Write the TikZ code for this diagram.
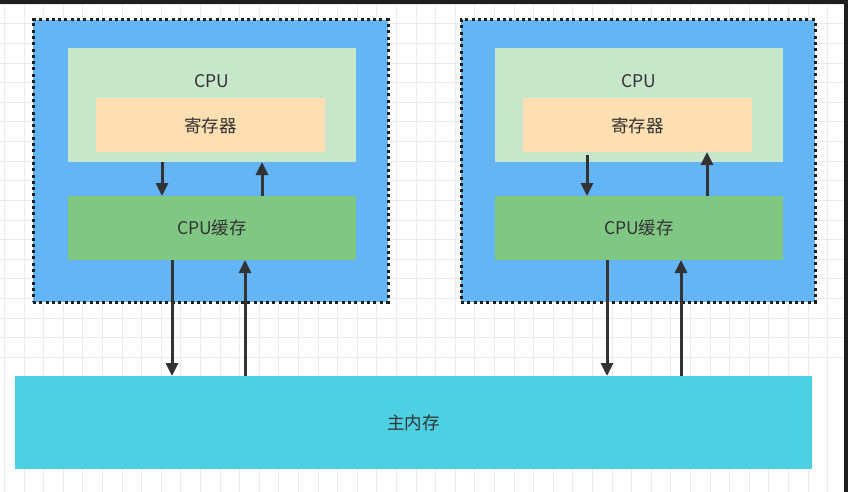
\documentclass[tikz,border=0pt]{standalone}
\usepackage{fontspec}
\setmainfont{Noto Sans CJK SC}
\usetikzlibrary{arrows.meta}
\definecolor{outerblue}{HTML}{64B5F6}
\definecolor{cpugreen}{HTML}{C8E6C9}
\definecolor{regorange}{HTML}{FFE0B2}
\definecolor{cachegreen}{HTML}{81C784}
\definecolor{memcyan}{HTML}{4DD0E1}
\definecolor{txt}{HTML}{333333}
\definecolor{gridc}{HTML}{EBEBEB}
\definecolor{frame}{HTML}{1E1E1E}
\tikzset{
  x=1pt, y=-1pt,
  box/.style={draw=none, inner sep=0pt, outer sep=0pt},
  outerbox/.style={box, fill=outerblue, draw=frame, line width=3pt, dash pattern=on 3pt off 3.3pt},
  lbl/.style={font=\fontsize{17.5}{20}\selectfont, text=txt, inner sep=0pt},
  arr/.style={draw=txt, line width=3pt, -{Triangle[length=13pt,width=12pt]}},
}
\begin{document}
\begin{tikzpicture}
\useasboundingbox (0,0) rectangle (848,492);
\fill[white] (0,0) rectangle (848,492);
% grid
\begin{scope}
\clip (0,4) rectangle (844,492);
\foreach \i in {-2,...,43} {
  \draw[gridc, line width=1pt] ({24+19.6*\i},0) -- ({24+19.6*\i},492);
}
\foreach \j in {-2,...,26} {
  \draw[gridc, line width=1pt] (0,{318-19.6*\j}) -- (848,{318-19.6*\j});
}
\end{scope}
% screenshot frame
\fill[frame] (0,0) rectangle (848,4);
\fill[frame] (844,0) rectangle (848,492);

% left group
\node[outerbox, minimum width=355pt, minimum height=282pt] (outerL) at (210.5,161) {};
\node[box, fill=cpugreen, minimum width=288pt, minimum height=114pt] (cpuL) at (212,105) {};
\node[lbl] (cpuLt) at (212,81) {CPU};
\node[box, fill=regorange, minimum width=229pt, minimum height=54pt] (regL) at (210.5,125) {};
\node[lbl] (regLt) at (210.5,126) {寄存器};
\node[box, fill=cachegreen, minimum width=288pt, minimum height=64pt] (cacheL) at (212,228) {};
\node[lbl] (cacheLt) at (212,228) {CPU缓存};

% right group
\node[outerbox, minimum width=354pt, minimum height=282pt] (outerR) at (638,161) {};
\node[box, fill=cpugreen, minimum width=288pt, minimum height=114pt] (cpuR) at (639,105) {};
\node[lbl] (cpuRt) at (639,81) {CPU};
\node[box, fill=regorange, minimum width=229pt, minimum height=54pt] (regR) at (637.5,125) {};
\node[lbl] (regRt) at (637.5,126) {寄存器};
\node[box, fill=cachegreen, minimum width=288pt, minimum height=64pt] (cacheR) at (639,228) {};
\node[lbl] (cacheRt) at (639,228) {CPU缓存};

% main memory
\node[box, fill=memcyan, minimum width=797pt, minimum height=93pt] (mem) at (413.5,422.5) {};
\node[lbl] (memt) at (413.5,423) {主内存};

% arrows left
\draw[arr] ([xshift=-50pt]cpuL.south) -- ([xshift=-50pt]cacheL.north);
\draw[arr] ([xshift=50pt]cacheL.north) -- ([xshift=50pt]cpuL.south);
\draw[arr] ([xshift=-40pt]cacheL.south) -- ([xshift=-40pt]cacheL.south |- mem.north);
\draw[arr] ([xshift=33pt]cacheL.south |- mem.north) -- ([xshift=33pt]cacheL.south);

% arrows right
\draw[arr] ([xshift=-50.5pt,yshift=-3pt]regR.south) -- ([xshift=-52pt]cacheR.north);
\draw[arr] ([xshift=68pt]cacheR.north) -- ([xshift=69.5pt]regR.south);
\draw[arr] ([xshift=-32pt]cacheR.south) -- ([xshift=-32pt]cacheR.south |- mem.north);
\draw[arr] ([xshift=42pt]cacheR.south |- mem.north) -- ([xshift=42pt]cacheR.south);
\end{tikzpicture}
\end{document}
